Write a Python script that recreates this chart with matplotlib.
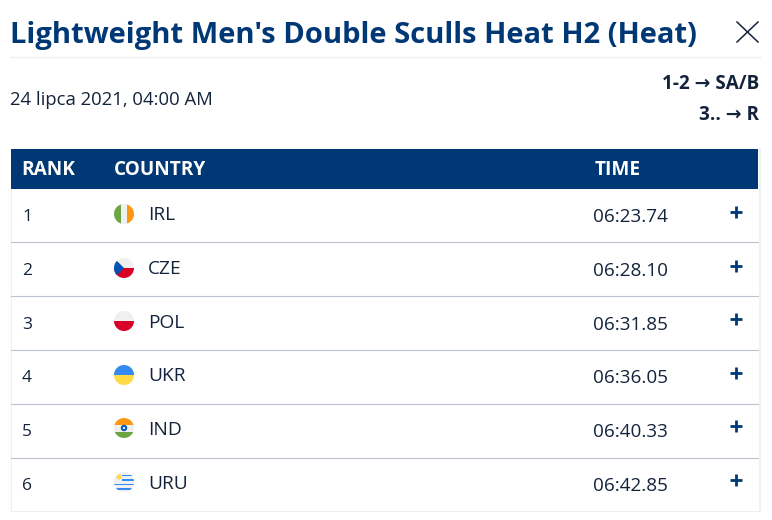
import matplotlib
matplotlib.use("Agg")
import matplotlib.pyplot as plt
from matplotlib.patches import Circle, Rectangle

title = "Lightweight Men's Double Sculls Heat H2 (Heat)"
date_text = "24 lipca 2021, 04:00 AM"
progress = ["1-2 → SA/B", "3.. → R"]
headers = ["RANK", "COUNTRY", "TIME"]

ranks = [1, 2, 3, 4, 5, 6]
countries = ["IRL", "CZE", "POL", "UKR", "IND", "URU"]
times = ["06:23.74", "06:28.10", "06:31.85", "06:36.05", "06:40.33", "06:42.85"]

navy = "#003876"
dark = "#14233c"
line_col = "#b9c4d0"
light_line = "#eceff3"
fonts = ["Open Sans", "DejaVu Sans"]

# rows in pixels
row_text_y = [217, 271, 325, 378, 432, 486]
flag_y = [214, 268, 321, 375, 428, 482]
sep_y = [242, 296, 350, 404, 458]

fig = plt.figure(figsize=(7.72, 5.2), dpi=100)
ax = fig.add_axes([0, 0, 1, 1])
ax.set_xlim(0, 772)
ax.set_ylim(520, 0)
ax.axis("off")

# header part
ax.text(10, 35, title, fontsize=21, fontweight="bold", color=navy, va="center", family=fonts)
ax.plot([10, 760], [57, 57], color=light_line, lw=1)
ax.plot([737, 758], [22, 42], color=dark, lw=1.1)
ax.plot([737, 758], [42, 22], color=dark, lw=1.1)
ax.text(10, 100, date_text, fontsize=13.3, color=dark, va="center", family=fonts)
ax.text(759, 84, progress[0], fontsize=13.6, fontweight="bold", color=dark, va="center", ha="right", family=fonts)
ax.text(759, 115, progress[1], fontsize=13.6, fontweight="bold", color=dark, va="center", ha="right", family=fonts)

# table
ax.add_patch(Rectangle((11, 149), 747, 40, color=navy, lw=0))
ax.text(21, 170, headers[0], fontsize=13.7, fontweight="bold", color="white", va="center", family=fonts)
ax.text(114, 170, headers[1], fontsize=13.7, fontweight="bold", color="white", va="center", family=fonts)
ax.text(595, 170, headers[2], fontsize=13.7, fontweight="bold", color="white", va="center", family=fonts)

ax.plot([11, 11], [189, 511], color=light_line, lw=0.8)
ax.plot([759.5, 759.5], [149, 511], color=light_line, lw=1.2)
ax.plot([11, 759], [511, 511], color=light_line, lw=0.8)
for y in sep_y:
    ax.plot([11, 758], [y, y], color=line_col, lw=0.8)


def flag(cy, parts, cx=124, r=10):
    # parts are (x, y, w, h, colour) relative to the flag box
    clip = Circle((cx, cy), r, transform=ax.transData, fc="none", ec="none")
    ax.add_patch(clip)
    for px, py, w, h, c in parts:
        rect = Rectangle((cx - r + px, cy - r + py), w, h, color=c, lw=0)
        ax.add_patch(rect)
        rect.set_clip_path(clip)


flag(flag_y[0], [(0, 0, 7, 20, "#6da544"), (7, 0, 6, 20, "#f0f0f0"), (13, 0, 7, 20, "#ff9811")])
flag(flag_y[1], [(0, 0, 20, 10, "#f0f0f0"), (0, 10, 20, 10, "#d80027")])
tri = plt.Polygon([(114, flag_y[1] - 10), (124, flag_y[1]), (114, flag_y[1] + 10)], color="#0052b4", lw=0)
ax.add_patch(tri)
tri.set_clip_path(Circle((124, flag_y[1]), 10, transform=ax.transData))
flag(flag_y[2], [(0, 0, 20, 10, "#f0f0f0"), (0, 10, 20, 10, "#d80027")])
flag(flag_y[3], [(0, 0, 20, 10, "#338af3"), (0, 10, 20, 10, "#ffda44")])
flag(flag_y[4], [(0, 0, 20, 6.5, "#ff9811"), (0, 6.5, 20, 7, "#f0f0f0"), (0, 13.5, 20, 6.5, "#6da544")])
ax.add_patch(Circle((124, flag_y[4]), 3.2, fc="#0052b4", ec="none"))
ax.add_patch(Circle((124, flag_y[4]), 1.2, fc="#f0f0f0", ec="none"))
flag(flag_y[5], [(0, 0, 20, 20, "#f0f0f0"), (8, 2.5, 12, 1.8, "#338af3"), (8, 7, 12, 1.8, "#338af3"), (0, 11.5, 20, 1.8, "#338af3"), (0, 16, 20, 1.8, "#338af3")])
ax.add_patch(Circle((119, flag_y[5] - 5), 2.5, fc="#ffda44", ec="none"))

for i in range(len(ranks)):
    y = row_text_y[i]
    ax.text(22, y, str(ranks[i]), fontsize=12.5, color=dark, va="center", family=fonts)
    ax.text(148, y - 2, countries[i], fontsize=13.8, color=dark, va="center", family=fonts)
    ax.text(593.5, y, times[i], fontsize=13.6, color=dark, va="center", family=fonts)
    # expand button
    py = flag_y[i] - 2
    ax.plot([730, 742], [py, py], color=navy, lw=2, solid_capstyle="butt")
    ax.plot([736, 736], [py - 6, py + 6], color=navy, lw=2, solid_capstyle="butt")

fig.savefig("out.png", dpi=100, facecolor="white")
